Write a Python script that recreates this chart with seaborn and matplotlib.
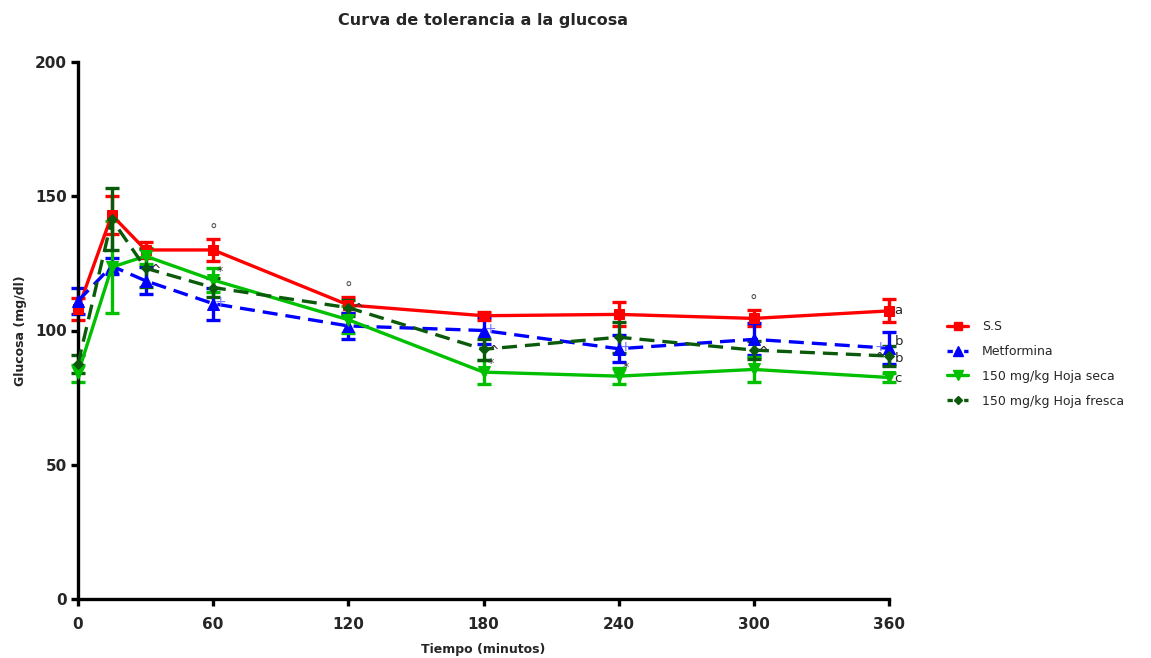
import matplotlib
matplotlib.use("Agg")
import matplotlib.pyplot as plt
from matplotlib.lines import Line2D
import numpy as np
import pandas as pd
import seaborn as sns

# Sampling times (minutes)
time = [0, 15, 30, 60, 120, 180, 240, 300, 360]

# Mean glucose (mg/dl) and error per group
ss_mean = [108.0, 143.0, 130.0, 130.0, 109.5, 105.5, 106.0, 104.5, 107.3]
ss_err = [4.0, 7.0, 3.0, 4.0, 3.0, 1.5, 4.5, 3.0, 4.3]

met_mean = [111.0, 124.0, 118.5, 110.0, 101.7, 100.0, 93.2, 96.7, 93.4]
met_err = [5.0, 3.0, 5.0, 6.0, 5.0, 5.0, 5.0, 6.0, 6.0]

seca_mean = [84.0, 123.6, 127.7, 118.8, 104.0, 84.5, 83.0, 85.5, 82.5]
seca_err = [3.0, 17.0, 3.0, 4.5, 5.0, 4.5, 3.0, 4.5, 1.5]

fresca_mean = [87.5, 141.4, 123.2, 116.0, 108.5, 93.0, 97.5, 92.7, 90.5]
fresca_err = [3.5, 11.5, 7.0, 3.5, 3.0, 4.0, 5.8, 3.4, 3.8]

groups = ["S.S", "Metformina", "150 mg/kg Hoja seca", "150 mg/kg Hoja fresca"]
end_letters = ["a", "b", "c", "b"]

colors = {"S.S": "#FF0000", "Metformina": "#0000FF",
          "150 mg/kg Hoja seca": "#00C000", "150 mg/kg Hoja fresca": "#0B5A0B"}
markers = {"S.S": "s", "Metformina": "^",
           "150 mg/kg Hoja seca": "v", "150 mg/kg Hoja fresca": "D"}
dashes = {"S.S": None, "Metformina": (4.5, 2.4),
          "150 mg/kg Hoja seca": None, "150 mg/kg Hoja fresca": (4.5, 2.4)}
msizes = {"S.S": 7.5, "Metformina": 8.5, "150 mg/kg Hoja seca": 8.5, "150 mg/kg Hoja fresca": 5.5}
# vertical nudge (points) of the group letters
letter_dy = {"S.S": 0, "Metformina": 5, "150 mg/kg Hoja seca": -1, "150 mg/kg Hoja fresca": -2}

means = {"S.S": ss_mean, "Metformina": met_mean,
         "150 mg/kg Hoja seca": seca_mean, "150 mg/kg Hoja fresca": fresca_mean}
errs = {"S.S": ss_err, "Metformina": met_err,
        "150 mg/kg Hoja seca": seca_err, "150 mg/kg Hoja fresca": fresca_err}

df = pd.concat([pd.DataFrame({"Tiempo": time, "Glucosa": means[g], "Grupo": g}) for g in groups],
               ignore_index=True)

sns.set_theme(style="ticks")
plt.rcParams["font.family"] = ["DejaVu Sans"]

fig = plt.figure(figsize=(11.51, 6.58), dpi=100)
ax = fig.add_axes([78 / 1151, 59 / 658, 811 / 1151, 537 / 658])

for g in groups:
    ax.errorbar(time, means[g], yerr=errs[g], fmt="none", ecolor=colors[g],
                elinewidth=2.4, capsize=5, capthick=2.4, zorder=2)
    sns.lineplot(data=df[df["Grupo"] == g], x="Tiempo", y="Glucosa", ax=ax,
                 color=colors[g], linewidth=2.4, marker=markers[g],
                 markersize=msizes[g], markeredgecolor=colors[g],
                 legend=False, zorder=3)
    if dashes[g]:
        ax.lines[-1].set_dashes(dashes[g])

# Significance symbols next to points
sym_gray = "#555555"
for t in [60, 120, 300]:
    i = time.index(t)
    ax.annotate("°", (t, ss_mean[i] + ss_err[i]), xytext=(0, 1), textcoords="offset points",
                ha="center", va="bottom", fontsize=11, color=sym_gray)
for t, dx in [(30, 7), (120, 7), (180, 7), (300, 7), (360, -7)]:
    i = time.index(t)
    ax.annotate("^", (t, fresca_mean[i]), xytext=(dx, -2), textcoords="offset points",
                ha="center", va="center", fontsize=10, color="#333333", zorder=5)
for t, dx in [(60, 5), (180, 5), (240, 5), (360, -6)]:
    i = time.index(t)
    ax.annotate("+", (t, met_mean[i]), xytext=(dx, 1), textcoords="offset points",
                ha="center", va="center", fontsize=10, color="#7070FF", zorder=5)
for t in [60, 180, 240]:
    i = time.index(t)
    ax.annotate("*", (t, seca_mean[i]), xytext=(5, 6), textcoords="offset points",
                ha="center", va="center", fontsize=9, color="#333333", zorder=5)

# Group letters at the final time point
for g, letter in zip(groups, end_letters):
    ax.annotate(letter, (360, means[g][-1]), xytext=(4, letter_dy[g]), textcoords="offset points",
                ha="left", va="center", fontsize=9.5, color="#222222",
                annotation_clip=False)

ax.set_xlim(0, 360)
ax.set_ylim(0, 200)
ax.set_xticks([0, 60, 120, 180, 240, 300, 360])
ax.set_yticks([0, 50, 100, 150, 200])
ax.margins(0)
sns.despine(ax=ax)
for s in ["left", "bottom"]:
    ax.spines[s].set_linewidth(2.4)
    ax.spines[s].set_color("black")
ax.tick_params(axis="both", width=2.4, length=5, color="black", labelsize=11)
ax.tick_params(axis="x", pad=8)
ax.tick_params(axis="y", pad=3)
for lab in ax.get_xticklabels() + ax.get_yticklabels():
    lab.set_fontweight("bold")
ax.set_xlabel("Tiempo (minutos)", fontsize=9, fontweight="bold", labelpad=8)
ax.set_ylabel("Glucosa (mg/dl)", fontsize=9, fontweight="bold", labelpad=6)
for art in ax.lines + ax.collections:
    art.set_clip_on(False)

fig.text(483 / 1151, 1 - 20 / 658, "Curva de tolerancia a la glucosa", ha="center", va="center",
         fontsize=11.5, fontweight="bold")

handles = []
for g in groups:
    h = Line2D([], [], color=colors[g], linewidth=2.4, marker=markers[g],
               markersize=msizes[g] * 0.8)
    if dashes[g]:
        h.set_dashes((1.6, 0.9))
    handles.append(h)
fig.legend(handles, groups, loc="upper left", bbox_to_anchor=(942 / 1151, 1 - 315 / 658),
           frameon=False, fontsize=9, handlelength=1.7, labelspacing=0.95,
           borderaxespad=0, handletextpad=1.1)

fig.savefig("out.png", dpi=100)
